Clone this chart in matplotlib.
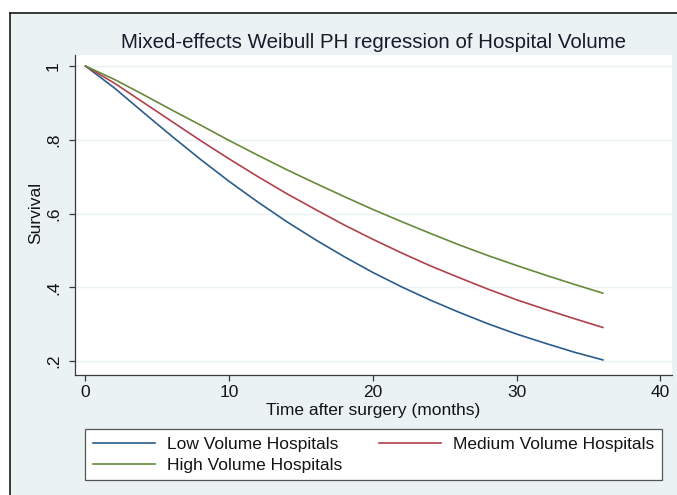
import matplotlib
matplotlib.use("Agg")
import matplotlib.pyplot as plt
from matplotlib.patches import Rectangle
from matplotlib.lines import Line2D

plt.rcParams['font.family'] = ['Liberation Sans', 'DejaVu Sans']

# ---- data ----
months = [0, 2, 4, 6, 8, 10, 12, 14, 16, 18, 20, 22, 24, 26, 28, 30, 32, 34, 36]
low_volume = [1.0, 0.941, 0.875, 0.810, 0.747, 0.687, 0.631, 0.578, 0.529, 0.483,
              0.440, 0.401, 0.365, 0.332, 0.301, 0.273, 0.248, 0.224, 0.203]
medium_volume = [1.0, 0.954, 0.902, 0.850, 0.798, 0.748, 0.700, 0.654, 0.611, 0.569,
                 0.530, 0.493, 0.458, 0.426, 0.395, 0.366, 0.340, 0.315, 0.291]
high_volume = [1.0, 0.964, 0.923, 0.881, 0.840, 0.798, 0.758, 0.719, 0.682, 0.646,
               0.611, 0.578, 0.546, 0.515, 0.486, 0.459, 0.433, 0.408, 0.384]
series_labels = ["Low Volume Hospitals", "Medium Volume Hospitals", "High Volume Hospitals"]
x_ticks = [0, 10, 20, 30, 40]
y_ticks = [0.2, 0.4, 0.6, 0.8, 1.0]
y_tick_labels = [".2", ".4", ".6", ".8", "1"]
title = "Mixed-effects Weibull PH regression of Hospital Volume"
x_label = "Time after surgery (months)"
y_label = "Survival"

# ---- style ----
W, H = 677, 495
BG = "#eaf2f3"
C_LOW = "#2b5c8a"
C_MED = "#b0404c"
C_HIGH = "#67893a"
TXT = "#141414"
AXC = "#3a3a3a"
FS = 12.5

fig = plt.figure(figsize=(W / 100, H / 100), dpi=100)
fig.patch.set_facecolor("white")

def fx(px):
    return px / W

def fy(py):
    return 1 - py / H

# graph region background with left/top frame
fig.patches.append(Rectangle((fx(10), 0), 1 - fx(10), fy(13), transform=fig.transFigure,
                             facecolor=BG, edgecolor="none", zorder=-5))
fig.lines.append(Line2D([fx(10), fx(10)], [0, fy(13)], transform=fig.transFigure,
                        color="#1a1a1a", lw=1.2, zorder=-4))
fig.lines.append(Line2D([fx(10), 1], [fy(13), fy(13)], transform=fig.transFigure,
                        color="#1a1a1a", lw=1.2, zorder=-4))

left, right, top, bottom = 75, 672, 55, 375
ax = fig.add_axes([fx(left), fy(bottom), fx(right) - fx(left), fy(top) - fy(bottom)])
ax.set_zorder(1)
ax.set_facecolor("white")

l_low, = ax.plot(months, low_volume, color=C_LOW, lw=1.2, label=series_labels[0])
l_med, = ax.plot(months, medium_volume, color=C_MED, lw=1.2, label=series_labels[1])
l_high, = ax.plot(months, high_volume, color=C_HIGH, lw=1.2, label=series_labels[2])

ax.set_xlim(-0.73, 40.81)
ax.set_ylim(0.162, 1.030)

for yv in y_ticks:
    ax.axhline(yv, color=BG, lw=1.0, zorder=0)

ax.set_xticks(x_ticks)
ax.set_xticklabels([str(v) for v in x_ticks], fontsize=FS, color=TXT)
ax.set_yticks(y_ticks)
ax.set_yticklabels(y_tick_labels, fontsize=FS, color=TXT, rotation=90, va="center")
ax.tick_params(axis="both", direction="out", length=4, width=0.9, color=AXC)
ax.tick_params(axis="x", pad=3)
ax.tick_params(axis="y", pad=6)

for s in ["top", "right"]:
    ax.spines[s].set_visible(False)
for s in ["left", "bottom"]:
    ax.spines[s].set_color(AXC)
    ax.spines[s].set_linewidth(0.9)

fig.text(fx(373.5), fy(43), title, fontsize=14.8, color="#1a1a2a", ha="center", va="center")
fig.text(fx(373.5), fy(410), x_label, fontsize=FS, color=TXT, ha="center", va="center")
fig.text(fx(36), fy(213), y_label, fontsize=FS, color=TXT, ha="center", va="center", rotation=90)

# row-wise order: Low, Medium / High
handles = [l_low, l_high, l_med]
labels = [h.get_label() for h in handles]
leg = fig.legend(handles, labels, ncol=2, loc="upper left", mode="expand",
                 bbox_to_anchor=(fx(85), fy(483), fx(662) - fx(85), fy(429) - fy(483)),
                 bbox_transform=fig.transFigure, borderaxespad=0,
                 fontsize=FS, handlelength=3.6, handletextpad=0.66, borderpad=0.45,
                 labelspacing=0.32, frameon=True, fancybox=False, framealpha=1)
leg.get_frame().set_edgecolor("#555555")
leg.get_frame().set_linewidth(0.9)
leg.get_frame().set_facecolor("white")
for t in leg.get_texts():
    t.set_color(TXT)

fig.savefig("out.png", dpi=100, facecolor=fig.get_facecolor())
